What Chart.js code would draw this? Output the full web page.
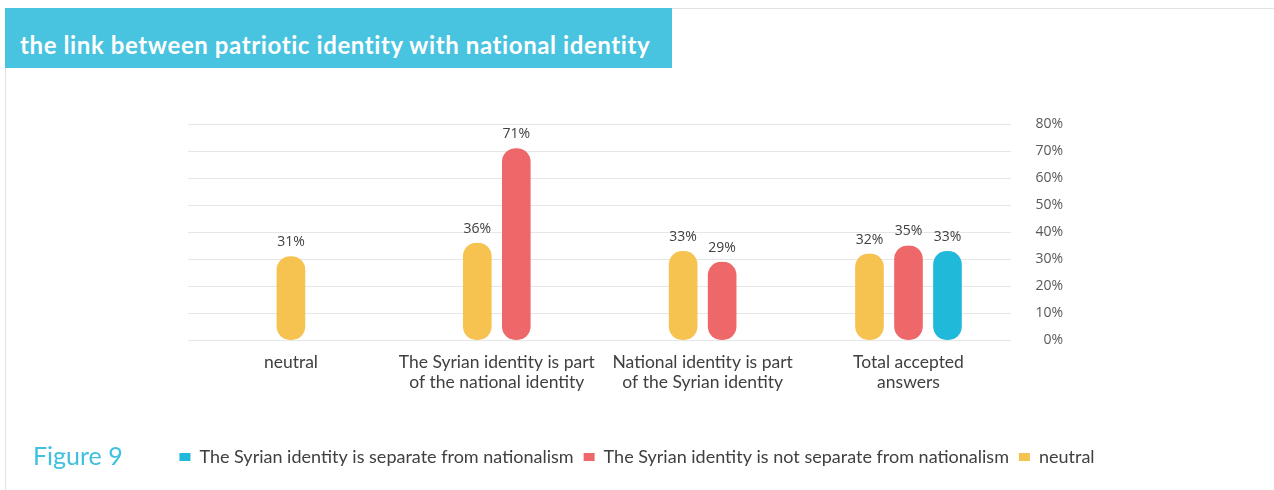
<!DOCTYPE html>
<html>
<head>
<meta charset="utf-8">
<script src="https://cdn.jsdelivr.net/npm/chart.js@4.4.1/dist/chart.umd.min.js"></script>
<style>
  html, body { margin: 0; padding: 0; background: #fff; }
  #page { position: relative; width: 1274px; height: 490px; overflow: hidden; }
  #frame { position: absolute; left: 5px; top: 8px; width: 1280px; height: 500px; border: 1px solid #e2e2e2; box-sizing: border-box; }
  #banner {
    position: absolute; left: 5px; top: 8px; width: 667px; height: 60px;
    background: #48c3e0; color: #fff;
    font: bold 24px Lato, sans-serif; letter-spacing: 0.6px;
    line-height: 74px; padding-left: 15px; box-sizing: border-box; overflow: hidden;
  }
  #fig { position: absolute; left: 33px; top: 440px; color: #3ec0de; font: 25px Lato, sans-serif; }
  #wrap { position: absolute; left: 0; top: 0; width: 1274px; height: 490px; }
</style>
</head>
<body>
<div id="page">
  <div id="frame"></div>
  <div id="wrap"><canvas id="chart"></canvas></div>
  <div id="banner">the link between patriotic identity with national identity</div>
  <div id="fig">Figure 9</div>
</div>
<script>
// categories and series (percent)
const categories = [
  ['neutral'],
  ['The Syrian identity is part', 'of the national identity'],
  ['National identity is part', 'of the Syrian identity'],
  ['Total accepted', 'answers']
];
const neutralVals = [31, 36, 33, 32];
const notSeparateVals = [null, 71, 29, 35];
const separateVals = [null, null, null, 33];

const yTicks = [0, 10, 20, 30, 40, 50, 60, 70, 80];

const colors = {
  neutral: '#f6c250',
  notSeparate: '#ef6869',
  separate: '#21b9d9'
};

// transparent side borders give the gap between pill bars
const pill = {
  barThickness: 39,
  borderWidth: { left: 5.5, right: 5.5, top: 0, bottom: 0 },
  borderColor: 'rgba(255,255,255,0)',
  borderRadius: 20,
  borderSkipped: false
};

// percent labels on top of each bar
const valueLabels = {
  id: 'valueLabels',
  afterDatasetsDraw(chart) {
    const ctx = chart.ctx;
    ctx.save();
    ctx.font = '14px "Open Sans"';
    ctx.fillStyle = '#404040';
    ctx.textAlign = 'center';
    ctx.textBaseline = 'bottom';
    chart.data.datasets.forEach((ds, i) => {
      chart.getDatasetMeta(i).data.forEach((bar, j) => {
        const v = ds.data[j];
        if (v === null || v === undefined) return;
        ctx.fillText(v + '%', bar.x, bar.y - 7);
      });
    });
    ctx.restore();
  }
};

// empty axis used only as a margin
const gutter = (pos, w) => ({
  type: 'linear',
  position: pos,
  weight: 1,
  grid: { display: false },
  border: { display: false },
  ticks: { display: false },
  afterFit(scale) { scale.width = w; }
});

const chart = new Chart(document.getElementById('chart'), {
  type: 'bar',
  data: {
    labels: categories,
    datasets: [
      Object.assign({ label: 'neutral', data: neutralVals, backgroundColor: colors.neutral }, pill),
      Object.assign({ label: 'The Syrian identity is not separate from nationalism', data: notSeparateVals, backgroundColor: colors.notSeparate }, pill),
      Object.assign({ label: 'The Syrian identity is separate from nationalism', data: separateVals, backgroundColor: colors.separate }, pill)
    ]
  },
  options: {
    responsive: true,
    maintainAspectRatio: false,
    animation: false,
    skipNull: true,
    layout: { padding: { left: 0, top: 124, right: 0, bottom: 14 } },
    plugins: {
      title: { display: false },
      tooltip: { enabled: false },
      legend: {
        position: 'bottom',
        reverse: true,
        labels: {
          boxWidth: 11,
          boxHeight: 8,
          padding: 10,
          color: '#404040',
          font: { family: 'Lato', size: 18 }
        }
      }
    },
    scales: {
      x: {
        grid: { display: false },
        border: { display: false },
        ticks: {
          color: '#404040',
          font: { family: 'Lato', size: 17.5, lineHeight: 1.15 },
          padding: 4,
          maxRotation: 0,
          autoSkip: false
        },
        afterFit(scale) { scale.height = 98; }
      },
      gutterLeft: gutter('left', 188),
      gutterRight: gutter('right', 211),
      y: {
        position: 'right',
        weight: 0,
        min: 0,
        max: 80,
        afterBuildTicks(scale) { scale.ticks = yTicks.map(v => ({ value: v })); },
        grid: { color: '#e6e6e6', lineWidth: 1, drawTicks: false },
        border: { display: false },
        ticks: {
          color: '#595959',
          font: { family: 'Open Sans', size: 14 },
          padding: 12,
          crossAlign: 'far',
          callback: v => v + '%'
        }
      }
    }
  },
  plugins: [valueLabels]
});
</script>
</body>
</html>
